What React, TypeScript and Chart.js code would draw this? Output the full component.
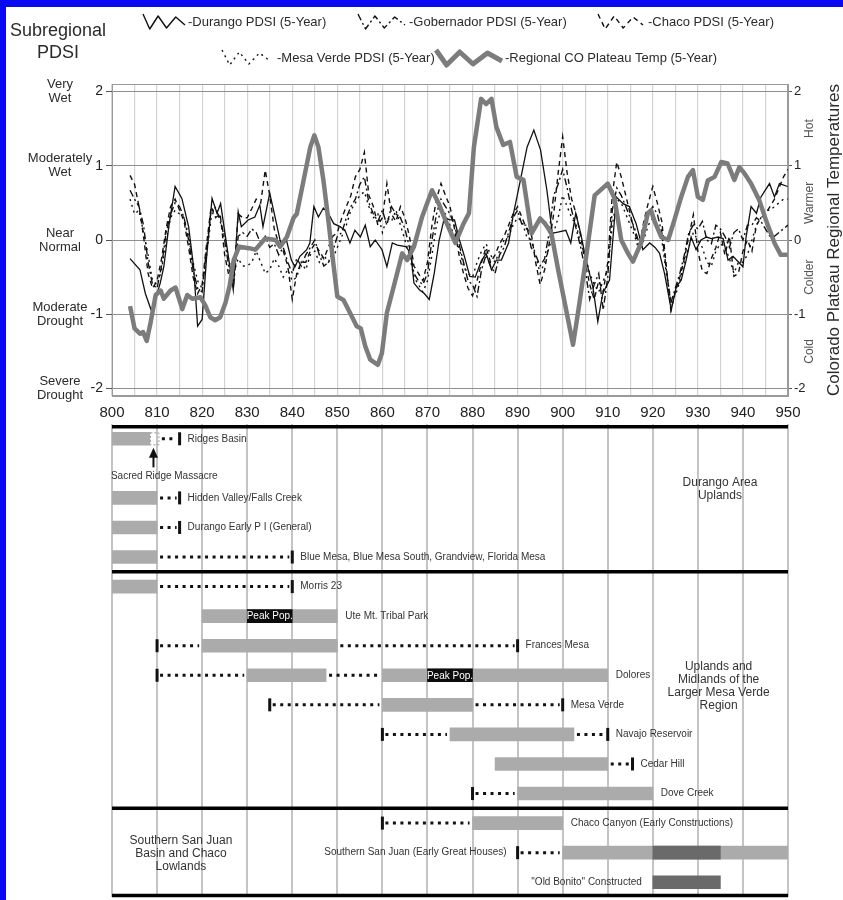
import React, { useEffect, useRef } from 'react';
import { Chart, registerables } from 'chart.js';

Chart.register(...registerables);

const FONT = "'Liberation Sans', Arial, Helvetica, sans-serif";
const TXT = '#2b2b2b';

// ---------------- top panel data ----------------
const pdsiLevelValues = [2, 1, 0, -1, -2];
const pdsiLevelLabels = [['Very', 'Wet'], ['Moderately', 'Wet'], ['Near', 'Normal'], ['Moderate', 'Drought'], ['Severe', 'Drought']];
const tempLevelValues = [1.5, 0.5, -0.5, -1.5];
const tempLevelLabels = ['Hot', 'Warmer', 'Colder', 'Cold'];

const durangoPdsi: [number, number][] = [
  [804, -0.25], [806.2, -0.4], [807.4, -0.72], [808.9, -0.98], [810, -0.72], [810.7, -0.58], [811.5, -0.36], [812.6, 0.18], [814, 0.72], [815.5, 0.56],
  [817, 0.18], [818.1, -0.36], [819, -1.16], [820, -1.07], [821, -0.22], [822.2, 0.56], [823.3, 0.36], [824.1, 0.49], [825.5, -0.09], [826.9, -0.67],
  [828, 0.38], [828.7, 0.18], [830.2, 0.27], [831.7, 0.31], [832.8, 0.47], [833.5, 0.18], [835, 0.63], [836.5, 0.22], [837.6, -0.09], [838.7, 0],
  [839.8, -0.27], [840.6, -0.36], [841.7, -0.22], [843.2, -0.13], [843.9, -0.04], [844.8, 0.45], [845.8, 0.31], [846.9, 0.43], [848, 0.36], [849.2, 0.22],
  [850.6, 0.18], [851.7, 0.13], [852.8, -0.04], [853.9, 0.13], [855.1, 0.04], [856.2, 0.2], [857.3, -0.09], [858.4, 0], [859.9, -0.13], [861, -0.36],
  [862.2, -0.04], [863.3, -0.07], [865.2, -0.09], [866.3, -0.18], [867, -0.58], [868.2, -0.67], [869.3, -0.72], [870.4, -0.8], [871.5, -0.45], [872.6, 0],
  [873.8, 0.31], [874.9, 0.27], [876, 0.27], [877.1, 0], [878.2, -0.22], [879.4, -0.49], [880.6, -0.5], [881.9, -0.29], [883, -0.18], [884.2, -0.4],
  [885.3, -0.27], [886.4, -0.27], [888, -0.04], [889.1, 0.36], [890.6, 0.8], [892.1, 1.25], [893.6, 1.48], [895.1, 1.21], [896.5, 0.67], [897.7, 0.09],
  [899.2, 0.11], [900.7, 0.13], [901.8, -0.04], [902.9, 0.36], [904, 0.09], [905.2, -0.27], [906.7, -0.63], [907.8, -1.1], [908.9, -0.72], [910.4, -0.54],
  [911.9, 0.58], [913.4, 0.49], [914.8, 0.45], [916.3, 0.22], [917.8, -0.13], [919.3, -0.04], [920.5, -0.1], [921.5, -0.18], [922.6, -0.45], [924.1, -0.94],
  [925.2, -0.63], [926.3, -0.54], [927.4, -0.27], [928.5, 0.04], [929.6, -0.13], [930.7, 0], [931.9, 0.04], [933, 0.02], [934.5, 0.04], [935.6, 0.02],
  [936.7, -0.27], [937.8, -0.22], [938.9, -0.29], [940, -0.36], [940.7, 0.04], [941.8, 0.45], [943, 0.36], [944, 0.58], [945.9, 0.76], [947, 0.58],
  [948.1, 0.76], [949.9, 0.72],
];

const regionalTemp: [number, number][] = [
  [804, -0.89], [805, -1.19], [806.2, -1.26], [806.9, -1.24], [807.7, -1.36], [808.6, -1.1], [809.7, -0.74], [810.8, -0.68], [811.5, -0.79], [813, -0.68],
  [814.1, -0.64], [815.6, -0.93], [816.7, -0.74], [817.8, -0.79], [819.6, -0.77], [820.7, -0.88], [821.8, -1.04], [822.9, -1.08], [824, -1.04], [825.2, -0.84],
  [826.1, -0.62], [827, -0.27], [828.2, -0.09], [830.4, -0.11], [831.8, -0.13], [834, 0.02], [836.3, 0], [837.3, -0.09], [838.8, 0.04], [840.3, 0.3],
  [841, 0.35], [842.5, 0.8], [844, 1.25], [844.9, 1.41], [845.8, 1.25], [846.9, 0.81], [848, 0.27], [849.2, -0.36], [850, -0.76], [851.4, -0.81],
  [852.8, -0.98], [854.3, -1.16], [855.2, -1.19], [856.2, -1.43], [857.3, -1.61], [859, -1.68], [859.9, -1.52], [861, -0.98], [862.5, -0.63], [864.4, -0.18],
  [865.5, -0.27], [867, -0.09], [868.8, 0.31], [871, 0.67], [872.5, 0.49], [874.3, 0.22], [876.2, -0.04], [878, 0.22], [879.2, 0.36], [880.3, 1.25],
  [881.9, 1.9], [883, 1.83], [884.2, 1.9], [885.3, 1.52], [886.8, 1.28], [888.3, 1.32], [889.8, 0.85], [891.3, 0.81], [893.1, 0.09], [895, 0.29],
  [896.1, 0.22], [897.5, 0.09], [899, -0.4], [900.9, -0.98], [902.3, -1.41], [903.4, -0.98], [904.9, -0.36], [907.1, 0.6], [910, 0.76], [911.5, 0.56],
  [913, 0], [914.5, -0.18], [915.6, -0.29], [917.4, -0.04], [918.9, 0.36], [919.6, 0.4], [920.4, 0.25], [921.9, 0.04], [923.4, 0], [924.8, 0.27],
  [926.3, 0.58], [927.8, 0.85], [928.9, 0.94], [930, 0.58], [931.1, 0.54], [932.2, 0.8], [933.7, 0.85], [935.2, 1.05], [936.6, 1.03], [938.1, 0.81],
  [939.2, 0.98], [940.3, 0.9], [941.8, 0.76], [943.6, 0.54], [945.1, 0.27], [947, -0.04], [948.4, -0.2], [949.9, -0.2],
];

const yearlyStart = 804;
const gobernadorPdsi = [
  0.67, 0.55, 0.45, 0.2, -0.3, -0.6,
  -0.65, -0.35, 0.1, 0.35, 0.5, 0.45, 0.3, 0.0, -0.4, -0.65,
  -0.7, -0.1, 0.4, 0.4, 0.3, 0.0, -0.4, -0.6, 0.05, 0.1,
  0.05, 0.15, 0.1, -0.05, 0.05, -0.1, -0.05, -0.2, -0.1, -0.3,
  -0.45, -0.25, -0.35, -0.2, -0.1, 0.0, -0.2, -0.35, -0.3, -0.15,
  0.05, 0.1, 0.3, 0.45, 0.55, 0.75, 0.85, 0.5, 0.35, 0.25,
  0.4, 0.2, 0.45, 0.35, 0.3, 0.15, -0.1, -0.45, -0.55, -0.6,
  -0.45, 0.0, 0.35, 0.55, 0.45, 0.35, 0.2, -0.05, -0.3, -0.55,
  -0.6, -0.76, -0.4, -0.2, -0.35, -0.45, -0.2, -0.1, 0.1, 0.3,
  0.4, 0.2, 0.2, -0.1, -0.2, -0.35, -0.25, 0.1, 0.6, 0.75,
  0.95, 0.7, 0.4, 0.15, -0.1, -0.4, -0.8, -0.6, -0.45, -0.94,
  -0.5, 0.4, 0.7, 0.6, 0.45, 0.3, 0.15, -0.05, 0.1, 0.35,
  0.45, 0.35, 0.1, -0.4, -0.85, -0.65, -0.45, -0.2, 0.1, 0.2,
  0.15, 0.25, 0.0, -0.05, 0.2, 0.15, 0.05, -0.1, 0.1, 0.15,
  0.0, 0.2, 0.2, 0.3, 0.25, 0.15, 0.05, 0.05, 0.1, 0.15,
  0.2,
];
const chacoPdsi = [
  0.87, 0.75, 0.45, 0.05, -0.45, -0.65,
  -0.55, -0.25, 0.15, 0.45, 0.55, 0.4, 0.25, -0.1, -0.5, -0.72,
  -0.6, -0.05, 0.45, 0.3, 0.35, -0.2, -0.5, -0.55, 0.35, 0.3,
  0.3, 0.42, 0.55, 0.5, 0.94, 0.6, 0.15, -0.05, -0.15, -0.35,
  -0.8, -0.45, -0.3, -0.3, -0.15, -0.05, -0.15, -0.25, -0.1, 0.05,
  0.1, 0.3, 0.45, 0.6, 0.85, 0.95, 1.18, 0.6, 0.45, 0.2,
  0.3, 0.76, 0.35, 0.25, 0.45, 0.3, 0.05, -0.35, -0.45, -0.55,
  -0.3, 0.2, 0.55, 0.76, 0.6, 0.45, 0.15, -0.2, -0.45, -0.65,
  -0.75, -0.55, -0.3, -0.1, -0.3, -0.2, -0.05, 0.05, 0.2, 0.35,
  0.45, 0.3, 0.15, 0.1, -0.3, -0.6, -0.4, -0.05, 0.35, 0.9,
  1.39, 0.9, 0.55, 0.35, 0.05, -0.3, -0.6, -0.8, -0.55, -0.7,
  -0.3, 0.6, 1.05, 0.85, 0.6, 0.35, 0.1, -0.1, 0.25, 0.5,
  0.72, 0.5, 0.25, -0.35, -0.95, -0.7, -0.5, -0.25, 0.05, 0.34,
  -0.15, -0.42, -0.45, -0.25, -0.1, 0.1, -0.2, 0.05, -0.49, -0.45,
  -0.15, 0.0, -0.15, 0.2, 0.3, 0.35, 0.45, 0.55, 0.7, 0.85,
  0.95,
];
const mesaVerdePdsi = [
  0.55, 0.35, 0.4, 0.1, -0.2, -0.55,
  -0.6, -0.4, 0.0, 0.3, 0.4, 0.35, 0.3, 0.05, -0.3, -0.55,
  -0.65, -0.2, 0.3, 0.45, 0.25, 0.05, -0.3, -0.45, -0.25, -0.35,
  -0.35, -0.3, -0.15, -0.3, -0.45, -0.4, -0.25, -0.35, -0.5, -0.4,
  -0.55, -0.5, -0.3, -0.4, -0.2, -0.15, -0.3, -0.2, -0.3, -0.25,
  -0.1, 0.05, 0.2, 0.4, 0.5, 0.6, 0.65, 0.45, 0.3, 0.35,
  0.1, 0.3, 0.25, 0.4, 0.2, 0.0, -0.2, -0.5, -0.6, -0.7,
  -0.55, -0.2, 0.2, 0.4, 0.35, 0.2, 0.05, -0.1, -0.35, -0.45,
  -0.5, -0.3, -0.15, -0.05, -0.2, -0.3, -0.15, 0.0, 0.05, 0.2,
  0.3, 0.25, 0.05, 0.0, -0.2, -0.45, -0.3, -0.1, 0.1, 0.3,
  0.6, 0.45, 0.3, 0.2, -0.05, -0.2, -0.45, -0.6, -0.7, -0.55,
  -0.4, 0.2, 0.55, 0.5, 0.35, 0.2, 0.05, -0.15, 0.0, 0.2,
  0.3, 0.2, 0.0, -0.45, -0.8, -0.75, -0.55, -0.3, -0.1, 0.1,
  0.0, -0.1, -0.3, -0.35, -0.15, -0.05, -0.1, -0.25, -0.45, -0.3,
  -0.3, -0.2, 0.0, 0.2, 0.3, 0.4, 0.4, 0.45, 0.5, 0.55,
  0.55,
];

// ---------------- timeline data ----------------
const timelineRows = [
  'Ridges Basin',
  'Sacred Ridge Massacre',
  'Hidden Valley/Falls Creek',
  'Durango Early P I (General)',
  'Blue Mesa, Blue Mesa South, Grandview, Florida Mesa',
  'Morris 23',
  'Ute Mt. Tribal Park',
  'Frances Mesa',
  'Dolores',
  'Mesa Verde',
  'Navajo Reservoir',
  'Cedar Hill',
  'Dove Creek',
  'Chaco Canyon (Early Constructions)',
  'Southern San Juan (Early Great Houses)',
  '"Old Bonito" Constructed',
];
const labelSide = ['right', 'none', 'right', 'right', 'right', 'right', 'right', 'right', 'right', 'right', 'right', 'right', 'right', 'right', 'left', 'left'];
const occupationBars = [[800, 808.4], null, [800, 810], [800, 810], [800, 810], [800, 810], [820, 850], [820, 850], [830, 847.5], [860, 880], [875, 902.5], [885, 910], [890, 920], [880, 900], [900, 950], null];
const occupationBars2 = [null, null, null, null, null, null, null, null, [860, 910], null, null, null, null, null, null, null];
const darkBars = [null, null, null, null, null, null, null, null, null, null, null, null, null, null, [920, 935], [920, 935]];
const peakPopBars = [null, null, null, null, null, null, [830, 840], null, [870, 880], null, null, null, null, null, null, null];
const dottedSpans: [number, number, number][] = [
  [0, 810.4, 815], [2, 810, 815], [3, 810, 815], [4, 810, 840], [5, 810, 840],
  [7, 810, 820], [7, 850, 890], [8, 810, 830], [8, 847.5, 860], [9, 835, 860], [9, 880, 900],
  [10, 860, 875], [10, 902.5, 910], [11, 910, 915.5], [12, 880, 890], [13, 860, 880], [14, 890, 900],
];
const endMarks: [number, number][] = [
  [0, 815], [2, 815], [3, 815], [4, 840], [5, 840], [7, 810], [7, 890], [8, 810],
  [9, 835], [9, 900], [10, 860], [10, 910], [11, 915.5], [12, 880], [13, 860], [14, 890],
];
const massacreYear = 809.2;
const massacreSpan = [808.4, 810.3];
const regionLabels: { lines: string[]; year: number; row: number }[] = [
  { lines: ['Durango Area', 'Uplands'], year: 934.9, row: 1.72 },
  { lines: ['Uplands and', 'Midlands of the', 'Larger Mesa Verde', 'Region'], year: 934.6, row: 8.38 },
  { lines: ['Southern San Juan', 'Basin and Chaco', 'Lowlands'], year: 815.3, row: 14.05 },
];

// ---------------- helpers ----------------
const pairs = (arr: [number, number][]) => arr.map(([x, y]) => ({ x, y }));
const yearly = (vals: number[]) => vals.map((y, i) => ({ x: yearlyStart + i, y }));

function drawWiggle(ctx: any, x: number, y: number, w: number, color: string, width: number, dash: number[]) {
  const pts = [[0, -8], [0.16, 7], [0.36, -6], [0.56, 6], [0.78, -5], [1, 3]];
  ctx.save();
  ctx.strokeStyle = color;
  ctx.lineWidth = width;
  ctx.lineJoin = 'round';
  ctx.setLineDash(dash);
  ctx.beginPath();
  pts.forEach(([fx, dy], i) => {
    const px = x + fx * w;
    const py = y + dy;
    if (i === 0) ctx.moveTo(px, py); else ctx.lineTo(px, py);
  });
  ctx.stroke();
  ctx.restore();
}

const topDecor = {
  id: 'topDecor',
  beforeDatasetsDraw(chart: any) {
    const { ctx, chartArea: a } = chart;
    ctx.save();
    ctx.strokeStyle = '#9a9a9a';
    ctx.lineWidth = 1;
    ctx.strokeRect(a.left + 0.5, a.top + 0.5, a.right - a.left - 1, a.bottom - a.top - 1);
    ctx.restore();
  },
  afterDraw(chart: any) {
    const { ctx, chartArea: a, scales } = chart;
    const y = scales.y;
    const y2 = scales.y2;
    ctx.save();
    ctx.fillStyle = TXT;
    ctx.textAlign = 'center';
    ctx.textBaseline = 'middle';
    // left PDSI categories
    ctx.font = `13px ${FONT}`;
    pdsiLevelValues.forEach((v, i) => {
      const py = y.getPixelForValue(v);
      ctx.fillText(pdsiLevelLabels[i][0], 60, py - 7);
      ctx.fillText(pdsiLevelLabels[i][1], 60, py + 7);
    });
    // right temperature categories
    ctx.fillStyle = '#555';
    ctx.font = `12px ${FONT}`;
    tempLevelValues.forEach((v, i) => {
      const py = y2.getPixelForValue(v);
      ctx.save();
      ctx.translate(810, py);
      ctx.rotate(-Math.PI / 2);
      ctx.fillText(tempLevelLabels[i], 0, 0);
      ctx.restore();
    });
    ctx.fillStyle = TXT;
    ctx.font = `17px ${FONT}`;
    ctx.save();
    ctx.translate(834, (a.top + a.bottom) / 2);
    ctx.rotate(-Math.PI / 2);
    ctx.fillText('Colorado Plateau Regional Temperatures', 0, 0);
    ctx.restore();
    // legend
    ctx.font = `18px ${FONT}`;
    ctx.fillText('Subregional', 58, 31);
    ctx.fillText('PDSI', 58, 53);
    ctx.textAlign = 'left';
    ctx.font = `13px ${FONT}`;
    const r1 = 22;
    const r2 = 58;
    drawWiggle(ctx, 143, r1, 42, '#111', 1.4, []);
    ctx.fillText('-Durango PDSI (5-Year)', 188, r1);
    drawWiggle(ctx, 358, r1, 47, '#111', 1.4, [7, 3, 2, 3]);
    ctx.fillText('-Gobernador PDSI (5-Year)', 409, r1);
    drawWiggle(ctx, 598, r1, 45, '#111', 1.4, [5, 4]);
    ctx.fillText('-Chaco PDSI (5-Year)', 648, r1);
    drawWiggle(ctx, 222, r2, 48, '#111', 1.4, [2, 4]);
    ctx.fillText('-Mesa Verde PDSI (5-Year)', 277, r2);
    drawWiggle(ctx, 436, r2, 66, '#7c7c7c', 5, []);
    ctx.fillText('-Regional CO Plateau Temp (5-Year)', 505, r2);
    ctx.restore();
  },
};

const timelineDecor = {
  id: 'timelineDecor',
  beforeDatasetsDraw(chart: any) {
    const { ctx, chartArea: a, scales } = chart;
    const x = scales.x;
    ctx.save();
    ctx.strokeStyle = '#c4c4c4';
    ctx.lineWidth = 2;
    for (let yr = 800; yr <= 950; yr += 10) {
      const px = Math.round(x.getPixelForValue(yr));
      ctx.beginPath();
      ctx.moveTo(px, a.top);
      ctx.lineTo(px, a.bottom);
      ctx.stroke();
    }
    ctx.restore();
  },
  afterDatasetsDraw(chart: any) {
    const { ctx, chartArea: a, scales } = chart;
    const x = scales.x;
    const y = scales.y;
    const rowY = (r: number) => y.getPixelForValue(r);
    const xl = x.getPixelForValue(800);
    const xr = x.getPixelForValue(950);
    ctx.save();
    // dotted spans
    ctx.strokeStyle = '#111';
    ctx.lineWidth = 3;
    ctx.setLineDash([3, 4.5]);
    dottedSpans.forEach(([r, s, e]) => {
      const py = rowY(r);
      ctx.beginPath();
      ctx.moveTo(x.getPixelForValue(s) + 3, py);
      ctx.lineTo(x.getPixelForValue(e) - 3, py);
      ctx.stroke();
    });
    ctx.setLineDash([]);
    // end marks
    ctx.fillStyle = '#111';
    endMarks.forEach(([r, yr]) => {
      const py = rowY(r);
      ctx.fillRect(x.getPixelForValue(yr) - 1.5, py - 6.5, 3, 13);
    });
    // massacre marker
    const r0 = rowY(0);
    ctx.strokeStyle = '#999';
    ctx.lineWidth = 1;
    ctx.setLineDash([2, 2]);
    const m0 = x.getPixelForValue(massacreSpan[0]);
    const m1 = x.getPixelForValue(massacreSpan[1]);
    ctx.strokeRect(m0 + 0.5, r0 - 6, m1 - m0, 12);
    ctx.setLineDash([]);
    const ax = x.getPixelForValue(massacreYear);
    const r1 = rowY(1);
    ctx.strokeStyle = '#111';
    ctx.lineWidth = 2;
    ctx.beginPath();
    ctx.moveTo(ax, r0 + 16);
    ctx.lineTo(ax, r1 - 1);
    ctx.stroke();
    ctx.beginPath();
    ctx.moveTo(ax, r0 + 9);
    ctx.lineTo(ax - 4.5, r0 + 19);
    ctx.lineTo(ax + 4.5, r0 + 19);
    ctx.closePath();
    ctx.fill();
    ctx.fillStyle = '#333';
    ctx.font = `10px ${FONT}`;
    ctx.textAlign = 'center';
    ctx.textBaseline = 'middle';
    ctx.fillText(timelineRows[1], x.getPixelForValue(811.6), r1 + 8);
    // peak pop text
    ctx.fillStyle = '#fff';
    peakPopBars.forEach((b, r) => {
      if (!b) return;
      ctx.fillText('Peak Pop.', x.getPixelForValue((b[0] + b[1]) / 2), rowY(r) + 0.5);
    });
    // row labels
    ctx.fillStyle = '#333';
    timelineRows.forEach((name, r) => {
      const side = labelSide[r];
      if (side === 'none') return;
      const ext: number[] = [];
      [occupationBars, occupationBars2, darkBars, peakPopBars].forEach((set) => {
        const b = set[r];
        if (b) ext.push(b[0], b[1]);
      });
      dottedSpans.forEach(([rr, s, e]) => { if (rr === r) ext.push(s, e); });
      endMarks.forEach(([rr, yr]) => { if (rr === r) ext.push(yr); });
      const py = rowY(r);
      if (side === 'right') {
        ctx.textAlign = 'left';
        ctx.fillText(name, x.getPixelForValue(Math.max(...ext)) + 8, py);
      } else {
        ctx.textAlign = 'right';
        ctx.fillText(name, x.getPixelForValue(Math.min(...ext)) - 11, py);
      }
    });
    // region labels
    ctx.textAlign = 'center';
    ctx.font = `12px ${FONT}`;
    regionLabels.forEach((g) => {
      const cy = y.getPixelForValue(g.row);
      const n = g.lines.length;
      g.lines.forEach((ln, i) => {
        ctx.fillText(ln, x.getPixelForValue(g.year), cy + (i - (n - 1) / 2) * 13);
      });
    });
    // heavy separators
    ctx.strokeStyle = '#000';
    ctx.lineWidth = 3.5;
    const seps = [r0 - 12, (rowY(4) + rowY(5)) / 2, (rowY(12) + rowY(13)) / 2, a.bottom - 1.5];
    seps.forEach((py) => {
      ctx.beginPath();
      ctx.moveTo(xl, py);
      ctx.lineTo(xr, py);
      ctx.stroke();
    });
    ctx.restore();
  },
};

export default function App() {
  const topRef = useRef<HTMLCanvasElement>(null);
  const botRef = useRef<HTMLCanvasElement>(null);

  useEffect(() => {
    const lineBase = { pointRadius: 0, borderWidth: 1.4, tension: 0, fill: false, yAxisID: 'y' };
    const top = new Chart(topRef.current as HTMLCanvasElement, {
      type: 'line',
      data: {
        datasets: [
          { ...lineBase, label: 'Regional CO Plateau Temp (5-Year)', data: pairs(regionalTemp), borderColor: '#7c7c7c', borderWidth: 4.5, order: 0, borderJoinStyle: 'round' },
          { ...lineBase, label: 'Durango PDSI (5-Year)', data: pairs(durangoPdsi), borderColor: '#111', borderWidth: 1.3, order: 1 },
          { ...lineBase, label: 'Gobernador PDSI (5-Year)', data: yearly(gobernadorPdsi), borderColor: '#111', borderDash: [7, 3, 2, 3], order: 2 },
          { ...lineBase, label: 'Chaco PDSI (5-Year)', data: yearly(chacoPdsi), borderColor: '#111', borderDash: [5, 4], order: 3 },
          { ...lineBase, label: 'Mesa Verde PDSI (5-Year)', data: yearly(mesaVerdePdsi), borderColor: '#111', borderDash: [2, 4], order: 4 },
        ] as any,
      },
      options: {
        responsive: false,
        animation: false,
        parsing: true,
        layout: { padding: { top: 84, left: 0, right: 0, bottom: 0 } },
        plugins: { legend: { display: false }, tooltip: { enabled: false } },
        scales: {
          x: {
            type: 'linear',
            min: 800,
            max: 950,
            afterFit: (s: any) => { s.height = 24; },
            grid: { color: '#d3d3d3', lineWidth: 1.2, drawTicks: false },
            border: { color: '#9a9a9a' },
            ticks: {
              stepSize: 5,
              autoSkip: false,
              maxRotation: 0,
              padding: 8,
              color: '#222',
              font: { family: FONT, size: 15 },
              callback: (v: any) => (Number(v) % 10 === 0 ? String(v) : ''),
            },
          },
          y: {
            type: 'linear',
            position: 'left',
            min: -2.1,
            max: 2.1,
            afterFit: (s: any) => { s.width = 112; },
            afterBuildTicks: (s: any) => { s.ticks = pdsiLevelValues.map((v) => ({ value: v })); },
            grid: { color: '#8e8e8e', lineWidth: 1, tickLength: 6, tickColor: '#555' },
            border: { color: '#9a9a9a' },
            ticks: { padding: 3, color: '#222', font: { family: FONT, size: 14 }, callback: (v: any) => String(v) },
          },
          y2: {
            type: 'linear',
            position: 'right',
            min: -2.1,
            max: 2.1,
            afterFit: (s: any) => { s.width = 55; },
            afterBuildTicks: (s: any) => { s.ticks = pdsiLevelValues.map((v) => ({ value: v })); },
            grid: { drawOnChartArea: false, tickLength: 4, tickColor: '#555' },
            border: { color: '#9a9a9a' },
            ticks: { padding: 2, color: '#222', font: { family: FONT, size: 13 }, callback: (v: any) => String(v) },
          },
        },
      } as any,
      plugins: [topDecor],
    });

    const barBase = { grouped: false, barThickness: 13, borderWidth: 0, borderSkipped: false };
    const bottom = new Chart(botRef.current as HTMLCanvasElement, {
      type: 'bar',
      data: {
        labels: timelineRows,
        datasets: [
          { ...barBase, label: 'Peak population', data: peakPopBars, backgroundColor: '#0c0c0c', order: 0 },
          { ...barBase, label: 'Great house construction', data: darkBars, backgroundColor: '#6a6a6a', order: 1 },
          { ...barBase, label: 'Occupation', data: occupationBars, backgroundColor: '#ababab', order: 2 },
          { ...barBase, label: 'Occupation (later)', data: occupationBars2, backgroundColor: '#ababab', order: 3 },
        ] as any,
      },
      options: {
        responsive: false,
        animation: false,
        indexAxis: 'y',
        layout: { padding: { top: 4, left: 112, right: 55, bottom: 3 } },
        plugins: { legend: { display: false }, tooltip: { enabled: false } },
        scales: {
          x: { type: 'linear', min: 800, max: 950, display: false },
          y: { type: 'category', display: false, offset: true },
        },
      } as any,
      plugins: [timelineDecor],
    });

    return () => {
      top.destroy();
      bottom.destroy();
    };
  }, []);

  return (
    <div style={{ position: 'absolute', left: 0, top: 0, width: 843, height: 900, background: '#fff', overflow: 'hidden' }}>
      <canvas ref={topRef} width={843} height={420} style={{ position: 'absolute', left: 0, top: 0 }} />
      <canvas ref={botRef} width={843} height={480} style={{ position: 'absolute', left: 0, top: 420 }} />
      <div style={{ position: 'absolute', left: 0, top: 0, width: 843, height: 7, background: '#0a0af2' }} />
      <div style={{ position: 'absolute', left: 0, top: 0, width: 6, height: 900, background: '#0a0af2' }} />
    </div>
  );
}
